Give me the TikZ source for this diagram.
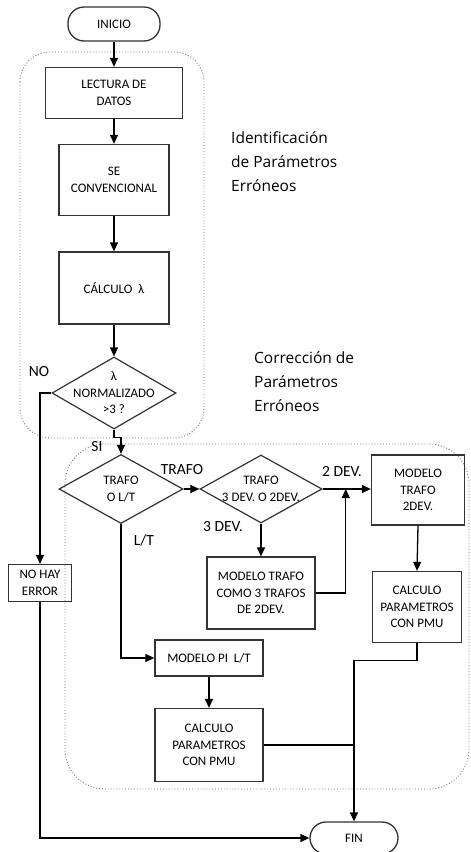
\documentclass[tikz,border=0pt]{standalone}
\usepackage{fontspec}
\setmainfont{Carlito}
\newfontfamily\notefont{Open Sans}
\usetikzlibrary{shapes.geometric,arrows.meta,calc}
\newcommand\dtext[1]{\smash{\makebox[0pt]{\raisebox{-0.3em}{\begin{tabular}{@{}c@{}}#1\end{tabular}}}}}
\begin{document}
\begin{tikzpicture}[x=1pt,y=-1pt,
  box/.style={draw=black!80, line width=1.3pt, align=center, inner sep=0pt,
    font=\fontsize{13}{16.5}\selectfont},
  term/.style={box, rounded corners=16pt},
  dec/.style={diamond, draw=black!80, line width=1.2pt, inner sep=0pt,
    font=\fontsize{13}{16.5}\selectfont},
  arr/.style={draw=black, line width=1.3pt, -{Triangle[length=9pt,width=8pt]}},
  ln/.style={draw=black, line width=1.3pt},
  region/.style={draw=black!55, line width=0.9pt, dotted},
  lab/.style={font=\fontsize{15.5}{18}\selectfont, inner sep=0pt},
  note/.style={font=\notefont\fontsize{15.5}{24}\selectfont, align=left, anchor=west, inner sep=0pt}
]
\useasboundingbox (0,0) rectangle (471,852);

% regions
\draw[region, rounded corners=30pt] (20,52) rectangle (204,438);
\draw[region, rounded corners=40pt] (65,444) rectangle (469,789);

% nodes
\node[term, minimum width=92pt, minimum height=34pt] (ini) at (114,24) {INICIO};
\node[box, minimum width=137pt, minimum height=51pt] (lec) at (114,93) {LECTURA DE\\DATOS};
\node[box, minimum width=110pt, minimum height=71pt] (se) at (114,180) {SE\\CONVENCIONAL};
\node[box, minimum width=110pt, minimum height=72pt] (calc) at (114,288) {CÁLCULO\ \ λ};
\node[dec, minimum width=124pt, minimum height=72pt] (d1) at (114,393) {\dtext{λ\\NORMALIZADO\\>3 ?}};
\node[box, minimum width=63pt, minimum height=37pt] (noerr) at (40,583) {NO HAY\\ERROR};
\node[dec, minimum width=124pt, minimum height=69pt] (d2) at (121,489) {\dtext{TRAFO\\O L/T}};
\node[dec, minimum width=122pt, minimum height=68pt] (d3) at (261,489) {\dtext{TRAFO\\3 DEV. O 2DEV.}};
\node[box, minimum width=93pt, minimum height=70pt] (m2) at (418,490) {MODELO\\TRAFO\\2DEV.};
\node[box, minimum width=108pt, minimum height=72pt] (m3) at (261,593) {MODELO TRAFO\\COMO 3 TRAFOS\\DE 2DEV.};
\node[box, minimum width=89pt, minimum height=71pt] (c2) at (417,607) {CALCULO\\PARAMETROS\\CON PMU};
\node[box, minimum width=108pt, minimum height=36pt] (pi) at (209,658) {MODELO PI\ \ L/T};
\node[box, minimum width=108pt, minimum height=73pt] (c1) at (209,745) {CALCULO\\PARAMETROS\\CON PMU};
\node[term, minimum width=88pt, minimum height=32pt] (fin) at (354,838) {FIN};

% labels
\node[lab] (lno) at (39,372) {NO};
\node[lab] (lsi) at (97,447) {SI};
\node[lab] (ltrafo) at (182,470) {TRAFO};
\node[lab] (llt) at (144,540) {L/T};
\node[lab] (l2dev) at (342,472) {2 DEV.};
\node[lab] (l3dev) at (223,527) {3 DEV.};
\node[note] (n1) at (231,162) {Identificación\\de Parámetros\\Erróneos};
\node[note] (n2) at (254,382) {Corrección de\\Parámetros\\Erróneos};

% connectors
\draw[arr] (ini) -- (lec);
\draw[arr] (lec) -- (se);
\draw[arr] (se) -- (calc);
\draw[arr] (calc) -- (d1);
\draw[arr] (d1.west) -| (noerr.north);
\draw[arr] (d1.south) -- ++(0,8) -| (d2.north);
\draw[arr] (d2.east) -- (d3.west);
\draw[arr] (d3.east) -- (d3.east -| m2.west);
\draw[arr] (d3.south) -- (m3.north);
\coordinate (j) at ($(d3.east)!0.48!(d3.east -| m2.west)$);
\draw[arr] (m3.east) -| (j);
\draw[arr] (m2.south) -- (c2.north);
\draw[arr] (c2.south) -- ++(0,17) -| (fin.north);
\draw[arr] (d2.south) |- (pi.west);
\draw[arr] (pi.south) -- (c1.north);
\draw[ln] (c1.east) -- (c1.east -| fin.north);
\draw[arr] (noerr.south) |- (fin.west);
\end{tikzpicture}
\end{document}
